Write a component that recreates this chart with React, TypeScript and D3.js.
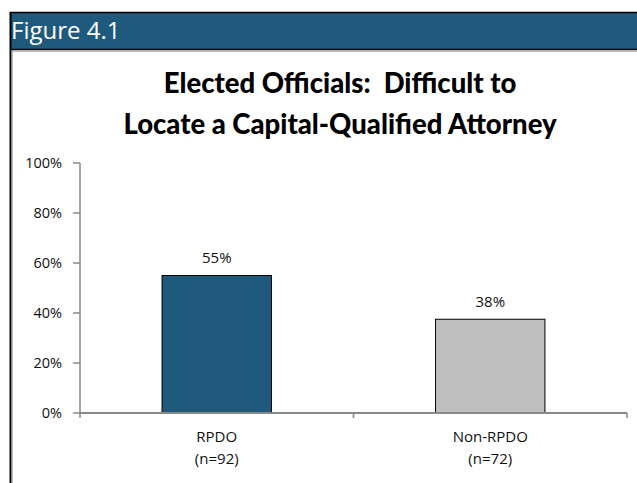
import React from "react";
import * as d3 from "d3";

const categories = ["RPDO", "Non-RPDO"];
const sampleSizes = ["(n=92)", "(n=72)"];
const values = [55, 37.5];
const barColors = ["#1f5a7d", "#bfbfbf"];
const yTicks = [0, 20, 40, 60, 80, 100];
const titleLines = ["Elected Officials:  Difficult to", "Locate a Capital-Qualified Attorney"];
const figureLabel = "Figure 4.1";

const W = 637;
const H = 483;

export default function App() {
  const x = d3.scaleBand<string>().domain(categories).range([80, 627]).paddingInner(0.6).paddingOuter(0.3);
  const xAxis = d3.scaleBand<string>().domain(categories).range([80, 627]).padding(0);
  const y = d3.scaleLinear().domain([0, 100]).range([413, 163]);
  const axisColor = "#888888";
  const font = "'Open Sans', sans-serif";
  const textColor = "#111";

  return (
    <svg width={W} height={H} style={{ position: "fixed", left: 0, top: 0, background: "#fff" }}>
      {/* header */}
      <rect x={10} y={12} width={W - 10} height={38} fill="#1f5a7d" />
      <line x1={10} x2={W} y1={12.5} y2={12.5} stroke="#000" strokeWidth={1.5} />
      <line x1={10} x2={W} y1={49.5} y2={49.5} stroke="#000" strokeWidth={1.5} />
      <line x1={12} x2={W} y1={51} y2={51} stroke="#aaa" strokeWidth={1.5} />
      <line x1={10.5} x2={10.5} y1={12} y2={H} stroke="#000" strokeWidth={2} />
      <line x1={12.3} x2={12.3} y1={50} y2={H} stroke="#aaa" strokeWidth={1} />
      <text x={11} y={39} fill="#fff" fontFamily={font} fontSize={24}>{figureLabel}</text>

      {/* title */}
      {titleLines.map((t, i) => (
        <text key={i} x={340} y={93 + i * 41} textAnchor="middle" fontFamily="Lato, sans-serif" fontWeight={900} fontSize={27.5} fill="#000" style={{ whiteSpace: "pre" }}>{t}</text>
      ))}

      {/* y axis */}
      <line x1={80} x2={80} y1={y(100)} y2={y(0)} stroke={axisColor} strokeWidth={1.5} />
      {yTicks.map((t) => (
        <g key={t}>
          <line x1={73} x2={80} y1={y(t)} y2={y(t)} stroke={axisColor} strokeWidth={1.5} />
          <text x={62} y={y(t) + 5} textAnchor="end" fontFamily={font} fontSize={14.5} fill={textColor}>{t}%</text>
        </g>
      ))}

      {/* bars */}
      {categories.map((c, i) => (
        <g key={c}>
          <rect x={x(c)} y={y(values[i])} width={x.bandwidth()} height={y(0) - y(values[i])} fill={barColors[i]} stroke="#000" strokeWidth={1} />
          <text x={(x(c) as number) + x.bandwidth() / 2} y={y(values[i]) - 12.5} textAnchor="middle" fontFamily={font} fontSize={15} fill={textColor}>{Math.round(values[i])}%</text>
          <text x={(xAxis(c) as number) + xAxis.bandwidth() / 2} y={442} textAnchor="middle" fontFamily={font} fontSize={15} fill={textColor}>{c}</text>
          <text x={(xAxis(c) as number) + xAxis.bandwidth() / 2} y={464} textAnchor="middle" fontFamily={font} fontSize={15} fill={textColor}>{sampleSizes[i]}</text>
        </g>
      ))}

      {/* x axis */}
      <line x1={80} x2={627} y1={y(0)} y2={y(0)} stroke={axisColor} strokeWidth={2} />
      {[80, ...categories.map((c) => (xAxis(c) as number) + xAxis.bandwidth())].map((v, i) => (
        <line key={i} x1={v} x2={v} y1={y(0)} y2={y(0) + 5} stroke={axisColor} strokeWidth={1.5} />
      ))}
    </svg>
  );
}
